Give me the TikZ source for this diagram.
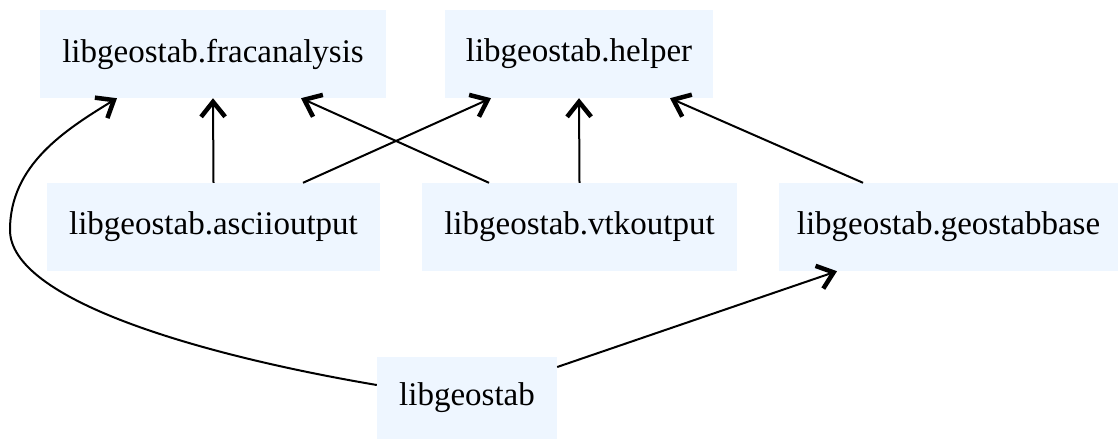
\documentclass[tikz,border=0pt]{standalone}
\usepackage{fontspec}
\setmainfont{Liberation Serif}
\usetikzlibrary{arrows.meta}
\definecolor{boxfill}{HTML}{EEF6FF}
\begin{document}
\begin{tikzpicture}[x=1pt,y=-1pt,
  modbox/.style={rectangle,fill=boxfill,inner sep=0pt,minimum height=88pt,
    font=\fontsize{33}{38}\selectfont},
  dep/.style={line width=2pt,-{Straight Barb[length=15pt,width=24pt,line width=4.5pt]}}]
\clip (0,0) rectangle (1118,439);
\fill[white] (0,0) rectangle (1118,439);
\node[modbox,minimum width=346pt] (frac) at (213,54) {libgeostab.fracanalysis};
\node[modbox,minimum width=268pt] (helper) at (579,54) {libgeostab.helper};
\node[modbox,minimum width=333pt] (ascii) at (213.5,227) {libgeostab.asciioutput};
\node[modbox,minimum width=315pt] (vtk) at (579.5,227) {libgeostab.vtkoutput};
\node[modbox,minimum width=339pt] (geo) at (948.5,227) {libgeostab.geostabbase};
\node[modbox,minimum width=180pt,minimum height=82pt] (lib) at (467,398) {libgeostab};
\draw[dep] (ascii.north) -- (frac.south);
\draw[dep] ([xshift=89.5pt]ascii.north) -- ([xshift=-88pt]helper.south);
\draw[dep] ([xshift=-90.5pt]vtk.north) -- ([xshift=88pt]frac.south);
\draw[dep] (vtk.north) -- (helper.south);
\draw[dep] ([xshift=-85.5pt]geo.north) -- ([xshift=91pt]helper.south);
\draw[dep] ([yshift=31pt]lib.east) -- ([xshift=-111.5pt]geo.south);
\draw[dep] ([yshift=13pt]lib.west) .. controls (200,355) and (10,300) .. (10,230)
  .. controls (10,165) and (65,130) .. ([xshift=-96pt]frac.south);
\end{tikzpicture}
\end{document}
